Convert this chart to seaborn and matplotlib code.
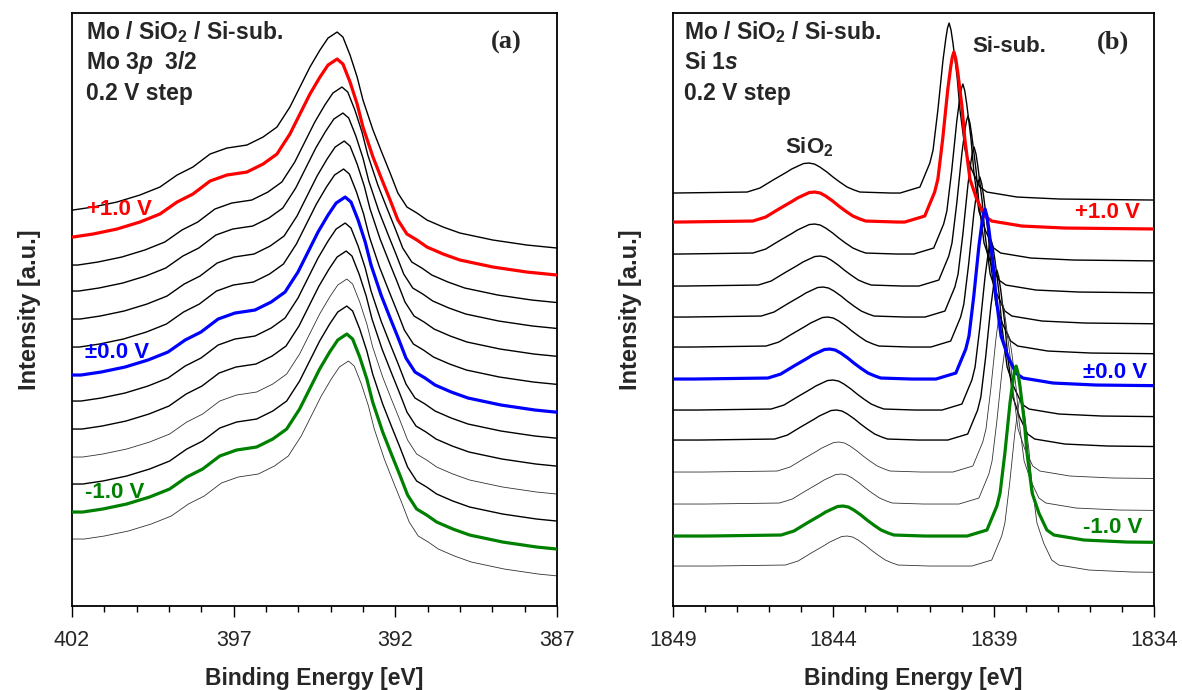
import matplotlib.pyplot as plt
import matplotlib.ticker as mticker
import seaborn as sns
import pandas as pd

voltages = [1.2, 1.0, 0.8, 0.6, 0.4, 0.2, 0.0, -0.2, -0.4, -0.6, -0.8, -1.0, -1.2]

# (a) Mo 3p 3/2 : profile of the +1.2 V spectrum, counts above its low-BE baseline
mo_energy = [402.6, 401.97, 401.35, 400.61, 399.90, 399.28, 398.75, 398.26, 397.73, 397.21,
             396.59, 396.09, 395.66, 395.26, 394.95, 394.64, 394.33, 394.08, 393.80, 393.62,
             393.40, 393.18, 393.00, 392.69, 392.41, 392.16, 391.92, 391.64, 391.33, 391.02,
             390.52, 390.0, 388.98, 387.93, 387.0, 386.4]
mo_counts = [38, 38, 41, 46, 53, 61, 73, 81, 94, 100,
             103, 111, 121, 141, 161, 181, 198, 210, 216, 211,
             193, 171, 148, 118, 95, 75, 55, 41, 35, 28,
             21, 15, 8, 3, 0, -1]
mo_peak = [393.81, 393.81, 393.66, 393.63, 393.59, 393.61, 393.56, 393.56, 393.53,
           393.51, 393.51, 393.51, 393.46]
mo_offset = [358, 331, 303, 277, 249, 221, 193, 167, 139, 111, 84, 56, 29]

# (b) Si 1s : SiO2 component and Si-substrate component of the +1.2 V spectrum
sio2_energy = [1851.0, 1849.0, 1846.69, 1846.29, 1845.88, 1845.45, 1845.30, 1845.10,
               1844.93, 1844.76, 1844.59, 1844.42, 1844.20, 1844.01, 1843.80, 1843.57,
               1843.35, 1843.17, 1842.2]
sio2_counts = [7, 7, 8, 12, 20, 28, 31, 34, 36.5, 37, 36, 33, 28, 23, 18, 13, 10, 8, 7]
sub_energy = [1841.92, 1841.30, 1840.99, 1840.89, 1840.74, 1840.58, 1840.49, 1840.44,
              1840.39, 1840.33, 1840.27, 1840.14, 1840.05, 1839.89, 1839.68, 1839.43,
              1839.21, 1838.27, 1836.93, 1834.0, 1831.5]
sub_counts = [7, 13, 37, 50, 90, 140, 162, 172, 177, 170, 157, 123, 90, 50, 30, 13,
              8, 3, 1, 0, 0]
sio2_peak = [1844.75, 1844.57, 1844.57, 1844.40, 1844.31, 1844.16, 1844.10, 1844.00,
             1843.89, 1843.81, 1843.74, 1843.69, 1843.56]
sub_peak = [1840.39, 1840.24, 1839.96, 1839.80, 1839.61, 1839.43, 1839.27, 1839.08,
            1838.90, 1838.74, 1838.55, 1838.30, 1838.15]
si_offset = [406, 377, 345, 313, 282, 252, 220, 189, 159, 127, 95, 63, 33]

mo_ticks = [402, 397, 392, 387]
si_ticks = [1849, 1844, 1839, 1834]

rows_a = []
for i, v in enumerate(voltages):
    d = mo_peak[i] - mo_peak[0]
    for e, c in zip(mo_energy, mo_counts):
        rows_a.append((v, e + d, c + mo_offset[i]))
df_a = pd.DataFrame(rows_a, columns=["bias", "energy", "intensity"])

rows_b = []
for i, v in enumerate(voltages):
    d1 = sio2_peak[i] - sio2_peak[0]
    d2 = sub_peak[i] - sub_peak[0]
    for e, c in zip(sio2_energy, sio2_counts):
        rows_b.append((v, e + d1, c + si_offset[i]))
    for e, c in zip(sub_energy, sub_counts):
        rows_b.append((v, e + d2, c + si_offset[i]))
df_b = pd.DataFrame(rows_b, columns=["bias", "energy", "intensity"])

sns.set_theme(style="ticks")
plt.rcParams["font.family"] = ["Liberation Sans", "DejaVu Sans"]
plt.rcParams["mathtext.fontset"] = "custom"
plt.rcParams["mathtext.rm"] = "Liberation Sans:bold"
plt.rcParams["mathtext.bf"] = "Liberation Sans:bold"
plt.rcParams["mathtext.it"] = "Liberation Sans:bold:italic"
plt.rcParams["mathtext.default"] = "bf"

fig = plt.figure(figsize=(11.82, 6.9), dpi=100)
ax_a = fig.add_axes([0.0609, 0.1217, 0.4103, 0.8594])
ax_b = fig.add_axes([0.5694, 0.1217, 0.4069, 0.8594])


def style_of(v, thin):
    if v == 1.0:
        return "#ff0000", 2.3
    if v == 0.0:
        return "#0000ff", 2.3
    if v == -1.0:
        return "#008000", 2.3
    if v in thin:
        return "#333333", 0.6
    return "black", 1.0


def draw(ax, df, thin):
    for v in voltages:
        sub = df[df["bias"] == v]
        col, lw = style_of(v, thin)
        sns.lineplot(data=sub, x="energy", y="intensity", color=col, lw=lw,
                     sort=False, estimator=None, ax=ax, zorder=3 if lw > 2 else 2)


draw(ax_a, df_a, [-0.6, -1.2])
draw(ax_b, df_b, [-0.6, -0.8, -1.2])

for ax, lim, ticks in [(ax_a, (402, 387), mo_ticks), (ax_b, (1849, 1834), si_ticks)]:
    ax.set_xlim(*lim)
    ax.set_ylim(0, 593)
    ax.xaxis.set_major_locator(mticker.FixedLocator(ticks))
    ax.xaxis.set_minor_locator(mticker.MultipleLocator(1))
    ax.set_yticks([])
    ax.tick_params(axis="x", which="major", length=8, width=1.0, direction="out",
                   labelsize=15.5, pad=9, color="black")
    ax.tick_params(axis="x", which="minor", length=4, width=1.0, direction="out",
                   color="black")
    for s in ax.spines.values():
        s.set_color("black")
        s.set_linewidth(1.3)
    ax.set_xlabel("Binding Energy [eV]", fontsize=16.5, fontweight="bold", labelpad=12)
    ax.set_ylabel("Intensity [a.u.]", fontsize=17, fontweight="bold", labelpad=22)

tkw = dict(fontsize=16.5, fontweight="bold", va="center")
vkw = dict(fontsize=16, fontweight="bold", va="center")

ax_a.text(0.029, 0.968, "Mo / SiO$_2$ / Si-sub.", transform=ax_a.transAxes, **tkw)
ax_a.text(0.029, 0.916, r"Mo 3$\mathit{p}$  3/2", transform=ax_a.transAxes, **tkw)
ax_a.text(0.029, 0.864, "0.2 V step", transform=ax_a.transAxes, **tkw)
ax_a.text(0.895, 0.951, "(a)", transform=ax_a.transAxes, ha="center", va="center",
          fontsize=19, fontweight="bold", family="Liberation Serif")
ax_a.text(0.031, 0.668, "+1.0 V", color="#ff0000", transform=ax_a.transAxes, **vkw)
ax_a.text(0.027, 0.428, "\u00b10.0 V", color="#0000ff", transform=ax_a.transAxes, **vkw)
ax_a.text(0.027, 0.192, "-1.0 V", color="#008000", transform=ax_a.transAxes, **vkw)

ax_b.text(0.023, 0.968, "Mo / SiO$_2$ / Si-sub.", transform=ax_b.transAxes, **tkw)
ax_b.text(0.023, 0.916, r"Si 1$\mathit{s}$", transform=ax_b.transAxes, **tkw)
ax_b.text(0.023, 0.864, "0.2 V step", transform=ax_b.transAxes, **tkw)
ax_b.text(0.915, 0.951, "(b)", transform=ax_b.transAxes, ha="center", va="center",
          fontsize=19, fontweight="bold", family="Liberation Serif")
ax_b.text(0.70, 0.943, "Si-sub.", transform=ax_b.transAxes, ha="center", **vkw)
ax_b.text(0.283, 0.774, "SiO$_2$", transform=ax_b.transAxes, ha="center", **vkw)
ax_b.text(0.971, 0.663, "+1.0 V", color="#ff0000", transform=ax_b.transAxes, ha="right", **vkw)
ax_b.text(0.985, 0.393, "\u00b10.0 V", color="#0000ff", transform=ax_b.transAxes, ha="right", **vkw)
ax_b.text(0.975, 0.133, "-1.0 V", color="#008000", transform=ax_b.transAxes, ha="right", **vkw)

fig.savefig("out.png", dpi=100)
